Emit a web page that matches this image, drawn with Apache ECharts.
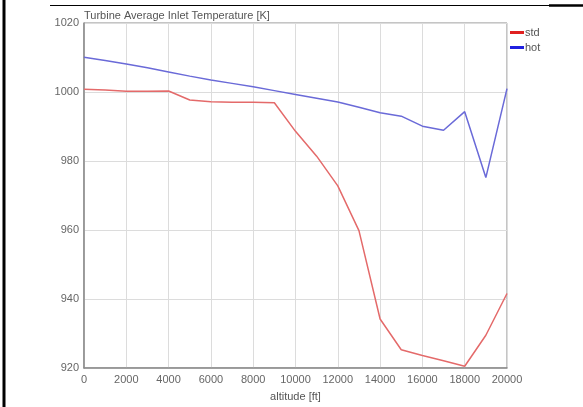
<!DOCTYPE html>
<html>
<head>
<meta charset="utf-8">
<script src="https://cdn.jsdelivr.net/npm/echarts@6/dist/echarts.min.js"></script>
<style>html,body{margin:0;padding:0;background:#fff;}#c{width:583px;height:407px;}</style>
</head>
<body>
<div id="c"></div>
<script>
const altitudes = [0,1000,2000,3000,4000,5000,6000,7000,8000,9000,10000,11000,12000,13000,14000,15000,16000,17000,18000,19000,20000];
const stdTemp = [1000.8,1000.6,1000.2,1000.2,1000.3,997.7,997.2,997.0,997.0,996.9,988.6,981.4,972.8,959.8,934.2,925.3,923.6,922.1,920.5,929.5,941.6];
const hotTemp = [1010.1,1009.1,1008.1,1007.0,1005.8,1004.6,1003.5,1002.5,1001.5,1000.4,999.3,998.2,997.1,995.6,994.0,993.0,990.1,988.9,994.3,975.2,1001.0];
const yTicks = [920,940,960,980,1000,1020];
const xTicks = [0,2000,4000,6000,8000,10000,12000,14000,16000,18000,20000];

const chart = echarts.init(document.getElementById('c'));
const font = 'Liberation Sans, Arial, sans-serif';
chart.setOption({
  animation: false,
  backgroundColor: '#fff',
  textStyle: {fontFamily: font},
  title: {
    text: 'Turbine Average Inlet Temperature [K]',
    left: 84, top: 10, padding: 0,
    textStyle: {fontSize: 11, fontWeight: 'normal', color: '#555', fontFamily: font}
  },
  legend: {
    orient: 'vertical', left: 510, top: 27, padding: 0,
    icon: 'rect', itemWidth: 14, itemHeight: 3, itemGap: 4,
    textStyle: {fontSize: 11, color: '#555', fontFamily: font, padding: [0,0,0,-4]},
    data: ['std','hot']
  },
  grid: {left: 84, right: 76, top: 23, bottom: 38, show: true, borderColor: '#8a8a8a', borderWidth: 1},
  xAxis: {
    type: 'value', min: xTicks[0], max: xTicks[xTicks.length-1], interval: 2000,
    name: 'altitude [ft]', nameLocation: 'middle', nameGap: 23,
    nameTextStyle: {fontSize: 11, color: '#555'},
    axisLine: {show: true, lineStyle: {color: '#8a8a8a', width: 1.5}},
    axisTick: {show: false},
    axisLabel: {fontSize: 11, color: '#666', margin: 6, formatter: v => String(v)},
    splitLine: {show: true, lineStyle: {color: '#dcdcdc'}}
  },
  yAxis: {
    type: 'value', min: yTicks[0], max: yTicks[yTicks.length-1], interval: 20,
    axisLine: {show: true, lineStyle: {color: '#8a8a8a', width: 1.5}},
    axisTick: {show: false},
    axisLabel: {fontSize: 11, color: '#666', margin: 5, formatter: v => String(v)},
    splitLine: {show: true, lineStyle: {color: '#dcdcdc'}}
  },
  graphic: [
    {type: 'line', shape: {x1: 4, y1: 0, x2: 4, y2: 407}, style: {stroke: '#000', lineWidth: 3}},
    {type: 'line', shape: {x1: 50, y1: 5.5, x2: 549, y2: 5.5}, style: {stroke: '#000', lineWidth: 1}},
    {type: 'line', shape: {x1: 549, y1: 5.5, x2: 583, y2: 5.5}, style: {stroke: '#000', lineWidth: 2.5}}
  ],
  series: [
    {name: 'std', type: 'line', data: altitudes.map((a,i)=>[a, stdTemp[i]]), showSymbol: false, symbol: 'none',
     lineStyle: {color: '#e46a6a', width: 1.5}, itemStyle: {color: '#e02020'}},
    {name: 'hot', type: 'line', data: altitudes.map((a,i)=>[a, hotTemp[i]]), showSymbol: false, symbol: 'none',
     lineStyle: {color: '#6a6ad8', width: 1.5}, itemStyle: {color: '#2020e0'}}
  ]
});
</script>
</body>
</html>
